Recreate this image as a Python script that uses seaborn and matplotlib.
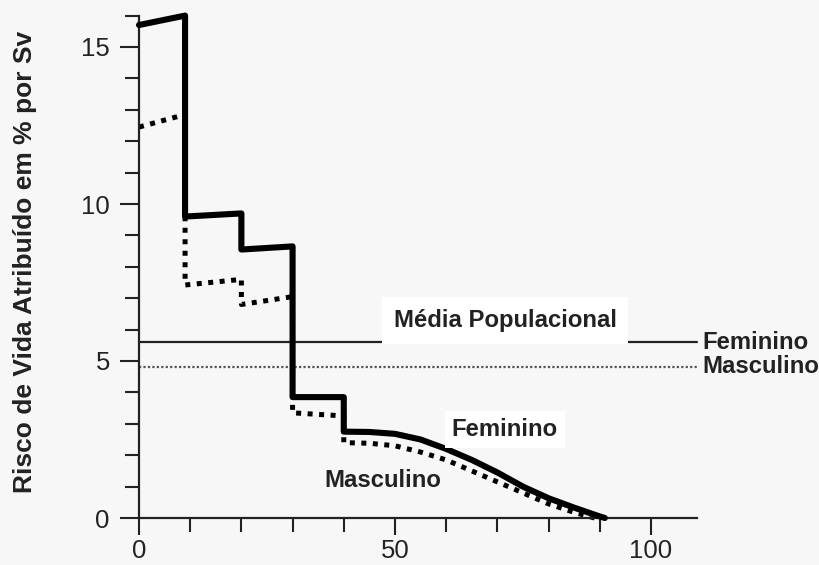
import matplotlib
matplotlib.use("Agg")
import matplotlib.pyplot as plt
from matplotlib.ticker import MultipleLocator, FixedLocator
import seaborn as sns
import pandas as pd

# ---- data ----
fem_age = [0, 9, 9, 20, 20, 30, 30, 40, 40, 45, 50, 55, 60, 65, 70, 75, 80, 85, 90, 91]
fem_risk = [15.7, 16.0, 9.6, 9.7, 8.55, 8.65, 3.85, 3.85, 2.75, 2.74, 2.68, 2.5, 2.2,
            1.85, 1.45, 1.0, 0.63, 0.33, 0.05, 0.0]
masc_age = [0, 9, 9, 20, 20, 30, 30, 40, 40, 45, 50, 55, 60, 65, 70, 75, 80, 85, 89]
masc_risk = [12.45, 12.85, 7.42, 7.6, 6.8, 7.05, 3.35, 3.25, 2.4, 2.38, 2.3, 2.1, 1.85,
             1.5, 1.15, 0.8, 0.45, 0.18, 0.0]
media_fem = 5.6
media_masc = 4.82
y_ticks = [0, 5, 10, 15]
y_ticklabels = ["0", "5", "10", "15"]
x_ticks = [0, 50, 100]
x_ticklabels = ["0", "50", "100"]
ylabel = "Risco de Vida Atribuído em % por Sv"

sns.set_theme(style="ticks")
plt.rcParams["font.family"] = ["Liberation Sans", "DejaVu Sans"]

bg = "#f7f7f7"
fig = plt.figure(figsize=(8.2, 5.65), dpi=100, facecolor=bg)
ax = fig.add_axes([139 / 820, 47 / 565, 558 / 820, 502.4 / 565])
ax.set_facecolor(bg)

df_m = pd.DataFrame({"idade": masc_age, "risco": masc_risk})
df_f = pd.DataFrame({"idade": fem_age, "risco": fem_risk})

ax.axhline(media_fem, color="#222222", lw=1.6, zorder=1)
ax.axhline(media_masc, color="#555555", lw=1.6, ls=(0, (1, 1)), zorder=1)

lm = sns.lineplot(data=df_m, x="idade", y="risco", sort=False, estimator=None, ax=ax,
                  color="black", lw=3.6, zorder=2)
lm.lines[-1].set_linestyle((0, (1.0, 1.3)))
lm.lines[-1].set_dash_capstyle("butt")
lf = sns.lineplot(data=df_f, x="idade", y="risco", sort=False, estimator=None, ax=ax,
                  color="black", lw=4.4, zorder=3)
for ln in ax.lines:
    ln.set_clip_on(False)

ax.set_xlim(0, 109)
ax.set_ylim(0, 16)
ax.xaxis.set_major_locator(FixedLocator(x_ticks))
ax.set_xticklabels(x_ticklabels)
ax.xaxis.set_minor_locator(MultipleLocator(10))
ax.yaxis.set_major_locator(FixedLocator(y_ticks))
ax.set_yticklabels(y_ticklabels)
ax.yaxis.set_minor_locator(MultipleLocator(1))
ax.tick_params(which="major", length=14, width=1.5, color="#222222", labelsize=18.5,
               labelcolor="#222222")
ax.tick_params(axis="y", which="major", pad=7)
ax.tick_params(axis="x", which="major", length=12, pad=3)
ax.tick_params(which="minor", length=10, width=1.5, color="#222222")
for s in ["top", "right"]:
    ax.spines[s].set_visible(False)
for s in ["left", "bottom"]:
    ax.spines[s].set_linewidth(1.6)
    ax.spines[s].set_color("#222222")
ax.set_xlabel("")
ax.set_ylabel("")

fig.text(25 / 820, 1 - 262 / 565, ylabel, rotation=90, ha="center", va="center",
         fontsize=19, fontweight="bold", color="#222222")

tkw = dict(fontsize=17.2, fontweight="bold", color="#222222")
ax.text(71.5, 6.08, "Média Populacional", ha="center", va="baseline",
        bbox=dict(boxstyle="square,pad=0.5", fc="white", ec="none"), **tkw)
ax.text(110.0, media_fem, "Feminino", ha="left", va="center", clip_on=False, **tkw)
ax.text(110.0, media_masc, "Masculino", ha="left", va="center", clip_on=False, **tkw)
ax.text(61.1, 2.61, "Feminino", ha="left", va="baseline",
        bbox=dict(boxstyle="square,pad=0.3", fc="white", ec="none"), **tkw)
ax.text(36.3, 0.99, "Masculino", ha="left", va="baseline", **tkw)

fig.savefig("out.png", dpi=100, facecolor=bg)
